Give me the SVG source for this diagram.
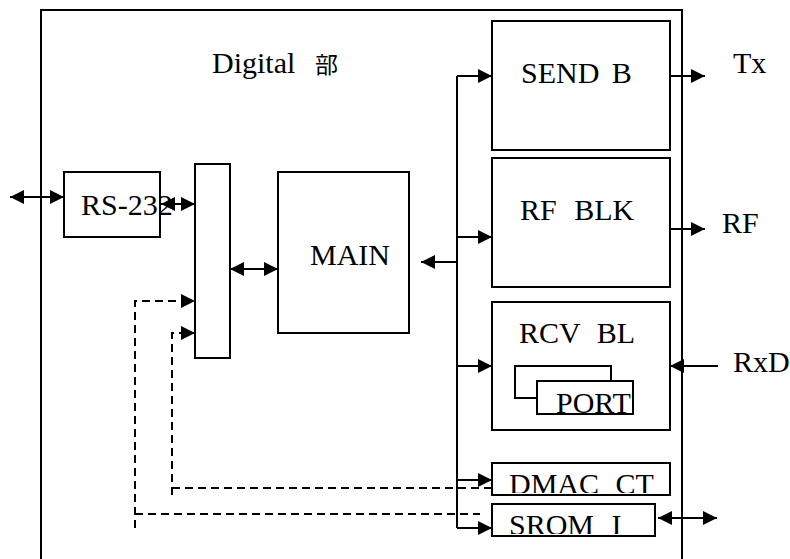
<svg xmlns="http://www.w3.org/2000/svg" width="790" height="559" viewBox="0 0 790 559">
  <style>
    .box { fill: #fff; stroke: #000; stroke-width: 2; }
    .line { fill: none; stroke: #000; stroke-width: 2; }
    .dash { fill: none; stroke: #000; stroke-width: 2; stroke-dasharray: 8 5; }
    text { fill: #000; }
  </style>
  <defs>
    <marker id="arrow" markerUnits="userSpaceOnUse" markerWidth="14" markerHeight="14" refX="14" refY="7" orient="auto-start-reverse">
      <path d="M0,0 L14,7 L0,14 z" fill="#000"/>
    </marker>
    <clipPath id="clipDmac"><rect x="493" y="464" width="176" height="29"/></clipPath>
    <clipPath id="clipSrom"><rect x="493" y="505" width="161" height="29"/></clipPath>
    <clipPath id="clipPort"><rect x="538" y="382" width="94" height="31"/></clipPath>
  </defs>

  <rect width="790" height="559" fill="#fff"/>

  <g font-family="'Liberation Serif', 'DejaVu Serif', serif" font-size="30">
    <!-- digital section frame (open at the bottom) -->
    <g id="frame">
      <path class="line" d="M41,559 V10 H682 V559"/>
      <text x="212" y="73">Digital</text>
      <text x="315" y="73" font-family="'Noto Sans CJK JP', 'Noto Sans CJK SC', sans-serif" font-size="23">部</text>
    </g>

    <g id="rs232">
      <rect class="box" x="64" y="172" width="96" height="65"/>
    </g>

    <g id="bridge">
      <rect class="box" x="195" y="164" width="35" height="194"/>
    </g>

    <g id="main">
      <rect class="box" x="278" y="172" width="131" height="161"/>
      <text x="310" y="265">MAIN</text>
    </g>

    <g id="send">
      <rect class="box" x="492" y="21" width="178" height="129"/>
      <text x="521" y="83">SEND <tspan dx="5">B</tspan></text>
    </g>

    <g id="rf">
      <rect class="box" x="492" y="158" width="178" height="129"/>
      <text x="520" y="220">RF <tspan dx="10">BLK</tspan></text>
    </g>

    <g id="rcv">
      <rect class="box" x="492" y="302" width="178" height="128"/>
      <text x="519" y="343">RCV <tspan dx="9">BL</tspan></text>
      <rect class="box" x="515" y="366" width="96" height="32"/>
      <rect class="box" x="537" y="381" width="96" height="33"/>
      <text x="556" y="413" clip-path="url(#clipPort)">PORT</text>
    </g>

    <g id="dmac">
      <rect class="box" x="492" y="463" width="178" height="32"/>
      <text x="509" y="494" clip-path="url(#clipDmac)">DMAC <tspan dx="9">CT</tspan></text>
    </g>

    <g id="srom">
      <rect class="box" x="492" y="504" width="163" height="32"/>
      <text x="509" y="535" clip-path="url(#clipSrom)">SROM <tspan dx="10">I</tspan></text>
    </g>

    <!-- RS-232 label drawn after the bridge so its last digit overlaps -->
    <text x="81" y="215">RS-232</text>

    <g id="connectors">
      <!-- external serial port -->
      <path class="line" d="M10,197 H64" marker-start="url(#arrow)" marker-end="url(#arrow)"/>
      <!-- RS-232 to bridge -->
      <path class="line" d="M161,204 H195" marker-start="url(#arrow)" marker-end="url(#arrow)"/>
      <!-- bridge to MAIN -->
      <path class="line" d="M230,269 H278" marker-start="url(#arrow)" marker-end="url(#arrow)"/>

      <!-- internal bus -->
      <path class="line" d="M457,76 V528"/>
      <path class="line" d="M457,76 H492" marker-end="url(#arrow)"/>
      <path class="line" d="M457,237 H492" marker-end="url(#arrow)"/>
      <path class="line" d="M457,262 H421" marker-end="url(#arrow)"/>
      <path class="line" d="M457,366 H492" marker-end="url(#arrow)"/>
      <path class="line" d="M457,480 H492" marker-end="url(#arrow)"/>
      <path class="line" d="M457,528 H492" marker-end="url(#arrow)"/>

      <!-- external outputs / inputs -->
      <path class="line" d="M670,76 H705" marker-end="url(#arrow)"/>
      <path class="line" d="M670,229 H705" marker-end="url(#arrow)"/>
      <path class="line" d="M718,366 H670" marker-end="url(#arrow)"/>
      <path class="line" d="M658,518 H717" marker-start="url(#arrow)" marker-end="url(#arrow)"/>

      <!-- dashed control lines into the bridge -->
      <path class="dash" d="M135,528 V301 H195" marker-end="url(#arrow)"/>
      <path class="dash" d="M135,514 H480"/>
      <path class="dash" d="M172,495 V333 H195" marker-end="url(#arrow)"/>
      <path class="dash" d="M172,488 H492"/>
    </g>

    <g id="ext-labels">
      <text x="733" y="73">Tx</text>
      <text x="722" y="233">RF</text>
      <text x="733" y="372">RxD</text>
    </g>
  </g>
</svg>
